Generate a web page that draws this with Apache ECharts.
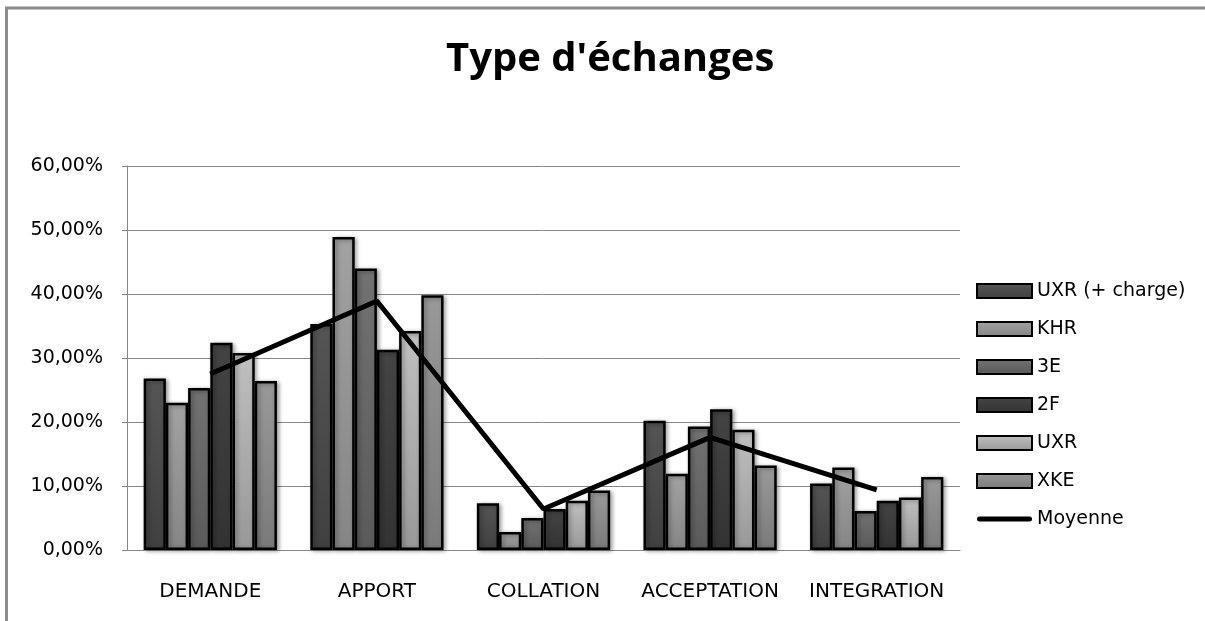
<!DOCTYPE html>
<html>
<head>
<meta charset="utf-8">
<script src="https://cdn.jsdelivr.net/npm/echarts@6/dist/echarts.min.js"></script>
<style>
  html, body { margin: 0; padding: 0; background: #fff; }
  #chart { width: 1205px; height: 621px; }
</style>
</head>
<body>
<div id="chart"></div>
<script>
// Exchange categories along the x axis
const categories = ['DEMANDE', 'APPORT', 'COLLATION', 'ACCEPTATION', 'INTEGRATION'];

// Share of each exchange type per group (in %)
const uxrCharge = [26.8, 35.3, 7.3, 20.2, 10.4];
const khr       = [23.0, 48.9, 2.8, 11.9, 12.9];
const e3        = [25.3, 44.0, 5.0, 19.3, 6.1];
const f2        = [32.4, 31.3, 6.4, 22.0, 7.7];
const uxr       = [30.8, 34.2, 7.7, 18.8, 8.2];
const xke       = [26.4, 39.8, 9.3, 13.2, 11.4];

// Average across groups
const moyenne   = [27.5, 38.9, 6.4, 17.6, 9.4];

const barNames = ['UXR (+ charge)', 'KHR', '3E', '2F', 'UXR', 'XKE'];
const barData = [uxrCharge, khr, e3, f2, uxr, xke];
// Top/bottom shades of the grey gradient fill for each series
const barShades = [
  ['#555555', '#404040'],
  ['#a2a2a2', '#858585'],
  ['#727272', '#5a5a5a'],
  ['#444444', '#333333'],
  ['#c0c0c0', '#989898'],
  ['#999999', '#7a7a7a']
];

const TITLE_FONT = 'Open Sans';
const FONT = 'DejaVu Sans';

function grad(top, bottom) {
  return new echarts.graphic.LinearGradient(0, 0, 0, 1, [
    { offset: 0, color: top },
    { offset: 1, color: bottom }
  ]);
}

const series = barNames.map((name, i) => ({
  name: name,
  type: 'bar',
  data: barData[i],
  barGap: '0%',
  barCategoryGap: '20%',
  itemStyle: {
    color: grad(barShades[i][0], barShades[i][1]),
    borderColor: '#000',
    borderWidth: 2.5,
    shadowColor: 'rgba(0,0,0,0.35)',
    shadowBlur: 4,
    shadowOffsetX: 2,
    shadowOffsetY: 1
  },
  emphasis: { disabled: true }
}));

series.push({
  name: 'Moyenne',
  type: 'line',
  data: moyenne,
  symbol: 'none',
  lineStyle: { color: '#000', width: 5 },
  itemStyle: { color: '#000' },
  z: 5
});

const chart = echarts.init(document.getElementById('chart'), null, { renderer: 'canvas' });

chart.setOption({
  animation: false,
  backgroundColor: '#fff',
  title: {
    text: "Type d'échanges",
    left: 441,
    top: 35,
    textStyle: { fontFamily: TITLE_FONT, fontWeight: 'bold', fontSize: 40, color: '#000' }
  },
  grid: { left: 127, right: 245, top: 166, bottom: 71, containLabel: false },
  legend: {
    orient: 'vertical',
    left: 971,
    top: 276,
    itemWidth: 55,
    itemHeight: 14,
    itemGap: 18,
    textStyle: { fontFamily: FONT, fontSize: 19, color: '#000', lineHeight: 20 },
    data: barNames.map(n => ({ name: n, icon: 'rect' })).concat([{
      name: 'Moyenne',
      icon: 'path://M2.5,0 L52.5,0 A2.5,2.5 0 0 1 52.5,5 L2.5,5 A2.5,2.5 0 0 1 2.5,0 Z',
      itemStyle: { color: '#000', borderWidth: 0 }
    }])
  },
  xAxis: {
    type: 'category',
    data: categories,
    axisLine: { lineStyle: { color: '#888', width: 1 } },
    axisTick: { show: false },
    axisLabel: { fontFamily: FONT, fontSize: 20, color: '#000', margin: 32, interval: 0, hideOverlap: false }
  },
  yAxis: {
    type: 'value',
    min: 0,
    max: 60,
    interval: 10,
    axisLine: { show: true, lineStyle: { color: '#888', width: 1 } },
    axisTick: { show: true, length: 5, lineStyle: { color: '#888' } },
    splitLine: { lineStyle: { color: '#888', width: 1 } },
    axisLabel: {
      fontFamily: FONT,
      fontSize: 19,
      color: '#000',
      margin: 24,
      formatter: v => v.toFixed(2).replace('.', ',') + '%'
    }
  },
  series: series,
  graphic: [{
    type: 'polyline',
    shape: { points: [[6.5, 621], [6.5, 8], [1205, 8]] },
    style: { stroke: '#8c8c8c', lineWidth: 3, fill: null },
    silent: true
  }]
});
</script>
</body>
</html>
